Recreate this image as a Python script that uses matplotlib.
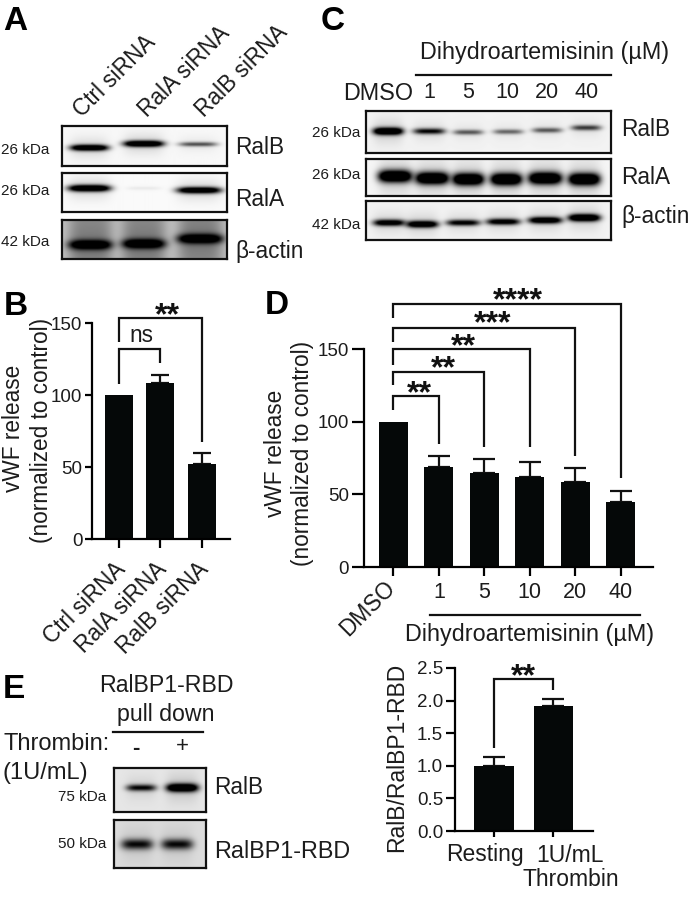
import numpy as np
import matplotlib
matplotlib.use('Agg')
import matplotlib.pyplot as plt
from matplotlib.transforms import ScaledTranslation

plt.rcParams['font.family'] = ['Liberation Sans', 'DejaVu Sans']

W, H = 688, 900
INK = '#1c1c1c'
BAR = '#050808'

# panel B
b_labels = ['Ctrl siRNA', 'RalA siRNA', 'RalB siRNA']
b_values = [100, 108, 52]
b_err = [0, 6, 8]

# panel D
d_labels = ['DMSO', '1', '5', '10', '20', '40']
d_values = [100, 68.5, 65, 62, 58.5, 45]
d_err = [0, 8, 9.5, 10.5, 9.5, 7.5]

# panel E chart
e_values = [1.0, 1.92]
e_err = [0.14, 0.11]

# band strengths of the blots
a_ralb = [0.92, 0.95, 0.42]
a_rala = [0.95, 0.04, 0.88]
a_actin = [1.0, 1.0, 1.0]
c_ralb = [1.0, 0.62, 0.4, 0.36, 0.4, 0.48]
c_rala = [1.0, 1.0, 1.0, 1.0, 1.0, 1.0]
c_actin = [0.78, 0.88, 0.68, 0.74, 0.84, 0.98]
e_ralb = [0.62, 1.0]
e_rbd = [0.6, 0.6]

fig = plt.figure(figsize=(W / 100, H / 100), dpi=100, facecolor='white')


def ptext(x, y, s, **kw):
    kw.setdefault('color', INK)
    kw.setdefault('fontsize', 16.3)
    kw.setdefault('va', 'center')
    return fig.text(x / W, 1 - y / H, s, **kw)


def hline(x0, x1, y, lw=1.6):
    fig.add_artist(plt.Line2D([x0 / W, x1 / W], [1 - y / H, 1 - y / H], color='#111111', lw=lw))


def stars(x, y, s):
    ptext(x, y + 16, s, fontsize=23, fontweight='bold', ha='center', va='baseline', color='#111111')


def blot(x0, x1, y0, y1, centers, rows, widths, thick, strength, bg, smear=0.0, smear_w=None):
    ax = fig.add_axes([x0 / W, 1 - y1 / H, (x1 - x0) / W, (y1 - y0) / H])
    xx, yy = np.meshgrid(np.arange(x0, x1, 0.5), np.arange(y0, y1, 0.5))
    img = np.full(xx.shape, float(bg))
    for c, r, w, s in zip(centers, rows, widths, strength):
        if smear:
            sw = smear_w if smear_w else w * 1.1
            img -= smear * np.exp(-((xx - c) / sw) ** 4)
        t = thick * (0.6 + 0.6 * s)
        band = s * 1.5 * np.exp(-((xx - c) / w) ** 4) * np.exp(-((yy - r) / t) ** 2)
        tail = s * 0.14 * np.exp(-((xx - c) / w) ** 4) * np.exp(-((yy - r) / (t * 3.5)) ** 2)
        img = img * (1 - np.clip(band + tail, 0, 1))
    ax.imshow(img, cmap='gray', vmin=0, vmax=1, aspect='auto', interpolation='bilinear')
    ax.set_xticks([])
    ax.set_yticks([])
    for sp in ax.spines.values():
        sp.set_linewidth(1.6)
        sp.set_color('#111111')


def bar_axes(box, xlim, ylim, values, err, ticks, barw, cap, ylen, xlen):
    x0, x1, ytop, ybot = box
    ax = fig.add_axes([x0 / W, 1 - ybot / H, (x1 - x0) / W, (ybot - ytop) / H])
    pos = np.arange(len(values))
    ax.bar(pos, values, width=barw, color=BAR, zorder=2)
    keep = [i for i in pos if err[i] > 0]
    ax.errorbar(pos[keep], np.array(values)[keep],
                yerr=[np.zeros(len(keep)), np.array(err)[keep]],
                fmt='none', ecolor='#111111', elinewidth=1.6, capsize=cap, capthick=1.6, zorder=1)
    ax.set_xlim(*xlim)
    ax.set_ylim(*ylim)
    ax.set_yticks(ticks)
    ax.set_xticks(pos)
    ax.patch.set_alpha(0)
    ax.spines['top'].set_visible(False)
    ax.spines['right'].set_visible(False)
    ax.spines['left'].set_linewidth(1.6)
    ax.spines['bottom'].set_linewidth(1.6)
    ax.tick_params(axis='y', length=ylen, width=1.6, labelsize=13.5, labelcolor=INK, pad=2)
    ax.tick_params(axis='x', length=xlen, width=1.6, labelsize=15, labelcolor=INK)
    return ax


def bracket(ax, a, b, low_a, top, low_b):
    ax.plot([a, a, b, b], [low_a, top, top, low_b], color='#111111', lw=1.6,
            clip_on=False, solid_joinstyle='miter', solid_capstyle='butt', zorder=3)


# panel letters
for x, y, s in [(15, 21, 'A'), (16, 306, 'B'), (333, 21, 'C'), (277, 305, 'D'), (14, 690, 'E')]:
    ptext(x, y, s, fontsize=24, fontweight='bold', ha='center', color='black')

# panel A
ptext(82, 118, 'Ctrl siRNA', rotation=45, ha='left', va='baseline', rotation_mode='anchor')
ptext(147, 118, 'RalA siRNA', rotation=45, ha='left', va='baseline', rotation_mode='anchor')
ptext(204, 118, 'RalB siRNA', rotation=45, ha='left', va='baseline', rotation_mode='anchor')
blot(62, 227, 126, 166, [89, 143, 197], [147.5, 143.5, 144], [19, 20, 19], 2.6, a_ralb, 0.97)
blot(62, 227, 173, 212, [89, 143, 198], [188, 188, 190], [21, 17, 22], 2.8, a_rala, 0.98)
blot(62, 227, 220, 259, [90, 143, 199], [244.5, 243.5, 238.5], [21, 21, 22], 4.0, a_actin, 0.76,
     smear=0.22, smear_w=22)
for y, s in [(150, '26 kDa'), (191, '26 kDa'), (242, '42 kDa')]:
    ptext(1, y, s, fontsize=11)
ptext(235, 147, 'RalB')
ptext(235, 200, 'RalA')
ptext(235, 251, 'β-actin')

# panel C
ptext(545, 53, 'Dihydroartemisinin (µM)', ha='center', fontsize=16.8)
hline(416, 611, 75)
ptext(378, 93, 'DMSO', ha='center', fontsize=16.8)
for x, s in zip([429, 468, 507, 547, 587], ['1', '5', '10', '20', '40']):
    ptext(x, 93, s, ha='center', fontsize=15.5)
blot(366, 611, 111, 153, [388, 429, 468, 508, 547, 586], [131, 131, 132, 131.5, 130, 127.5],
     [15, 16, 15, 15, 15, 15], 3.0, c_ralb, 0.95)
blot(366, 611, 159, 196, [395, 432, 468, 506, 545, 584], [176, 178, 179, 179, 178, 179],
     [17, 17, 16, 16, 17, 16], 5.0, c_rala, 0.96)
blot(366, 611, 201, 240, [389, 422, 463, 503, 545, 584], [222.5, 224, 222.5, 221.5, 220, 217.5],
     [16, 16, 17, 17, 17, 16], 3.0, c_actin, 0.95)
for y, s in [(133, '26 kDa'), (175, '26 kDa'), (225, '42 kDa')]:
    ptext(360, y, s, fontsize=11, ha='right')
ptext(621, 130, 'RalB')
ptext(621, 177, 'RalA')
ptext(621, 217, 'β-actin')

# panel B
ax = bar_axes((92, 230, 323, 539), ((92 - 119) / 41.3, (230 - 119) / 41.3), (0, 150),
              b_values, b_err, [0, 50, 100, 150], 28 / 41.3, 6.5, 5, 6.5)
ax.set_xticklabels(b_labels, rotation=45, ha='right', rotation_mode='anchor', fontsize=16.3)
ax.tick_params(axis='x', pad=4)
shift = ScaledTranslation(-5 / 100, -4 / 100, fig.dpi_scale_trans)
for lab in ax.get_xticklabels():
    lab.set_transform(lab.get_transform() + shift)
bracket(ax, 0, 1, 107.6, 132, 122)
bracket(ax, 0, 2, 136.8, 153.5, 67.4)
ptext(141, 335, 'ns', ha='center', fontsize=16.3)
stars(167, 308, '**')
ptext(14, 428, 'vWF release', rotation=90, ha='center')
ptext(42, 430, '(normalized to control)', rotation=90, ha='center')

# panel D
ax = bar_axes((364, 653, 349, 567), ((364 - 393.3) / 45.5, (653 - 393.3) / 45.5), (0, 150),
              d_values, d_err, [0, 50, 100, 150], 29 / 45.5, 7.8, 9, 6.5)
ax.set_xticklabels([])
bracket(ax, 0, 1, 108, 117.8, 84.7)
bracket(ax, 0, 2, 125.4, 134.1, 82.8)
bracket(ax, 0, 3, 139.2, 150, 82.8)
bracket(ax, 0, 4, 154.6, 164.3, 76.4)
bracket(ax, 0, 5, 171.2, 181.3, 61)
for x, y, s in [(419, 386, '**'), (443, 361, '**'), (463, 339, '**'), (493, 316, '***'), (518, 293, '****')]:
    stars(x, y, s)
ptext(276, 453, 'vWF release', rotation=90, ha='center')
ptext(303, 453, '(normalized to control)', rotation=90, ha='center')
for x, s in zip([439, 484, 529, 575, 621], d_labels[1:]):
    ptext(x, 592, s, ha='center', fontsize=15.5)
ptext(348, 637, d_labels[0], rotation=45, ha='left', va='baseline', rotation_mode='anchor', fontsize=16.3)
hline(430, 640, 615)
ptext(530, 635, 'Dihydroartemisinin (µM)', ha='center', fontsize=16.8)

# panel E, blots
ptext(166, 686, 'RalBP1-RBD', ha='center', fontsize=16.7)
ptext(166, 714, 'pull down', ha='center', fontsize=16.7)
hline(113, 203, 732)
ptext(3, 744, 'Thrombin:', fontsize=17)
ptext(3, 773, '(1U/mL)', fontsize=17)
ptext(136, 748, '-', ha='center', fontsize=16, fontweight='bold')
ptext(182, 747, '+', ha='center', fontsize=16)
blot(114, 206, 768, 812, [141, 182], [787.5, 787.5], [15, 16], 3.4, e_ralb, 0.9)
blot(114, 206, 820, 868, [137, 177], [844, 844], [16, 16], 5.5, e_rbd, 0.86)
ptext(106, 797, '75 kDa', fontsize=11, ha='right')
ptext(106, 844, '50 kDa', fontsize=11, ha='right')
ptext(214, 788, 'RalB')
ptext(214, 851, 'RalBP1-RBD', fontsize=16.8)

# panel E, chart
ax = bar_axes((455, 593, 668, 831), ((455 - 494) / 59, (593 - 494) / 59), (0, 2.5),
              e_values, e_err, [0, 0.5, 1.0, 1.5, 2.0, 2.5], 39 / 59, 7.8, 6.5, 4.5)
ax.set_xticklabels([])
ax.set_yticklabels(['0.0', '0.5', '1.0', '1.5', '2.0', '2.5'])
bracket(ax, 0, 1, 1.27, 2.33, 2.16)
stars(523, 669, '**')
ptext(397, 757, 'RalB/RalBP1-RBD', rotation=90, ha='center', fontsize=16.5)
ptext(485, 855, 'Resting', ha='center', fontsize=16.5)
ptext(570, 855, '1U/mL', ha='center', fontsize=16.5)
ptext(571, 880, 'Thrombin', ha='center', fontsize=16.5)

fig.savefig('out.png', dpi=100)
